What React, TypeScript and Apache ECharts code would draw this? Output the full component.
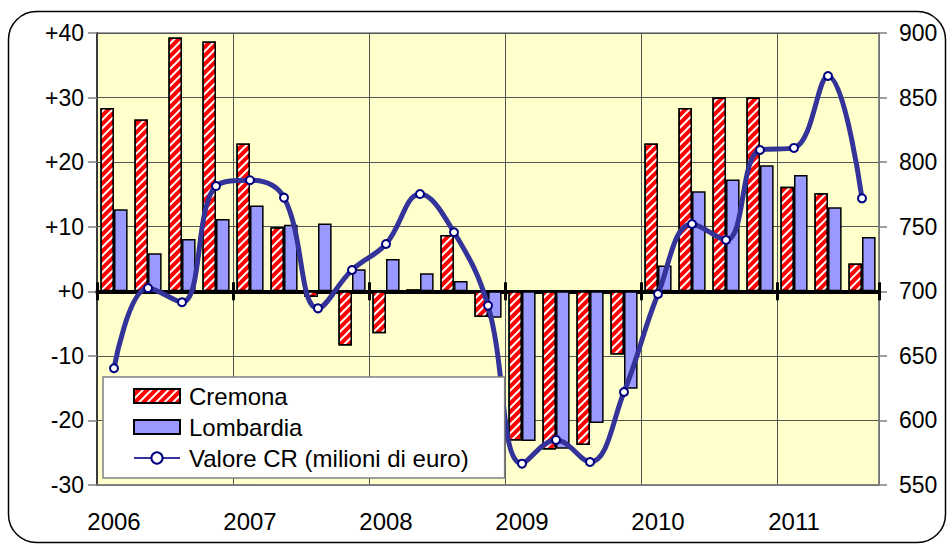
import React, { useEffect, useRef } from "react";
import * as echarts from "echarts";

const quarters = [
  "I-2006", "II-2006", "III-2006", "IV-2006",
  "I-2007", "II-2007", "III-2007", "IV-2007",
  "I-2008", "II-2008", "III-2008", "IV-2008",
  "I-2009", "II-2009", "III-2009", "IV-2009",
  "I-2010", "II-2010", "III-2010", "IV-2010",
  "I-2011", "II-2011", "III-2011",
];
const years = ["2006", "2007", "2008", "2009", "2010", "2011"];
const cremona = [28.4, 26.6, 39.3, 38.7, 22.9, 9.9, -0.9, -8.4, -6.5, 0.3, 8.7, -4.0, -23.1, -24.5, -23.8, -9.8, 22.9, 28.4, 30.0, 30.0, 16.2, 15.2, 4.3];
const lombardia = [12.7, 5.9, 8.1, 11.2, 13.3, 10.3, 10.5, 3.4, 5.0, 2.8, 1.6, -4.1, -23.2, -24.4, -20.4, -15.1, 4.0, 15.5, 17.3, 19.5, 18.0, 13.0, 8.4];
const valore = [640.4, 702.5, 691.5, 781.5, 786, 772.5, 686.8, 716.5, 736.6, 775.3, 745.7, 688.9, 566.5, 584.9, 567.8, 622, 697.9, 752.1, 739.7, 809.4, 811, 866.7, 772];
const leftTicks = { min: -30, max: 40, step: 10 };
const rightTicks = { min: 550, max: 900, step: 50 };

const FONT = "Liberation Sans";

export default function App() {
  const ref = useRef<HTMLDivElement>(null);
  useEffect(() => {
    if (!ref.current) return;
    const chart = echarts.init(ref.current, null, { renderer: "svg" });
    const yearTick = (i: number) => i % 4 === 0;
    const zeroAxis = (inside: boolean) => ({
      type: "category",
      data: quarters,
      gridIndex: 0,
      position: "bottom",
      axisLine: {
        show: !inside,
        onZero: true,
        onZeroAxisIndex: 0,
        lineStyle: { color: "#000", width: 4 },
      },
      axisTick: {
        show: true,
        inside,
        interval: (i: number) => yearTick(i),
        length: 9,
        lineStyle: { color: "#000", width: 3 },
      },
      axisLabel: { show: false },
      splitLine: { show: false },
    });
    chart.setOption({
      animation: false,
      textStyle: { fontFamily: FONT },
      grid: {
        left: 97,
        right: 70,
        top: 33,
        bottom: 59,
        show: true,
        backgroundColor: "#FFFFCC",
        borderColor: "#808080",
        borderWidth: 1.5,
      },
      graphic: [
        {
          type: "rect",
          shape: { x: 8.5, y: 11.5, width: 937, height: 531, r: 28 },
          style: { fill: "none", stroke: "#000", lineWidth: 1.5 },
          z: 100,
        },
      ],
      legend: {
        orient: "vertical",
        left: 103,
        top: 377,
        padding: [7, 36, 8, 30],
        itemGap: 7,
        itemWidth: 46,
        itemHeight: 14,
        backgroundColor: "#ffffff",
        borderColor: "#808080",
        borderWidth: 1.5,
        selectedMode: false,
        textStyle: {
          fontSize: 24,
          lineHeight: 24,
          color: "#000",
          fontFamily: FONT,
          padding: [0, 0, 0, 4],
        },
        data: [
          { name: "Cremona", icon: "rect" },
          { name: "Lombardia", icon: "rect" },
          { name: "Valore CR (milioni di euro)" },
        ],
        z: 50,
      },
      xAxis: [
        {
          type: "category",
          data: quarters,
          position: "bottom",
          axisLine: { onZero: false, lineStyle: { color: "#808080", width: 1.5 } },
          axisTick: { show: false },
          axisLabel: {
            interval: 0,
            fontSize: 24,
            color: "#000",
            margin: 24,
            formatter: (_v: string, i: number) => (i % 4 === 0 ? years[i / 4] : ""),
          },
          splitLine: {
            show: true,
            interval: (i: number) => yearTick(i),
            lineStyle: { color: "#555", width: 1 },
          },
        },
        zeroAxis(false),
        zeroAxis(true),
      ],
      yAxis: [
        {
          type: "value",
          min: leftTicks.min,
          max: leftTicks.max,
          interval: leftTicks.step,
          axisLine: { show: true, lineStyle: { color: "#3a3a3a", width: 2 } },
          axisTick: { show: true, length: 9, lineStyle: { color: "#808080", width: 1.5 } },
          axisLabel: {
            fontSize: 23,
            color: "#000",
            margin: 13,
            formatter: (v: number) => (v >= 0 ? "+" + v : "" + v),
          },
          splitLine: { show: true, lineStyle: { color: "#555", width: 1 } },
        },
        {
          type: "value",
          position: "right",
          min: rightTicks.min,
          max: rightTicks.max,
          interval: rightTicks.step,
          axisLine: { show: true, lineStyle: { color: "#808080", width: 1.5 } },
          axisTick: { show: true, length: 8, lineStyle: { color: "#808080", width: 1.5 } },
          axisLabel: { fontSize: 23, color: "#000", margin: 20 },
          splitLine: { show: false },
        },
      ],
      series: [
        {
          name: "Cremona",
          type: "bar",
          data: cremona,
          xAxisIndex: 0,
          yAxisIndex: 0,
          barGap: "0%",
          barCategoryGap: "20%",
          itemStyle: {
            color: "#FF0000",
            borderColor: "#000",
            borderWidth: 1.5,
            decal: {
              symbol: "rect",
              symbolSize: 1,
              color: "#ffffff",
              dashArrayX: [1, 0],
              dashArrayY: [2, 4],
              rotation: -Math.PI / 4,
            },
          },
        },
        {
          name: "Lombardia",
          type: "bar",
          data: lombardia,
          xAxisIndex: 0,
          yAxisIndex: 0,
          itemStyle: { color: "#9999FF", borderColor: "#000", borderWidth: 1.5 },
        },
        {
          name: "Valore CR (milioni di euro)",
          type: "line",
          data: valore,
          xAxisIndex: 0,
          yAxisIndex: 1,
          smooth: 0.4,
          symbol: "circle",
          symbolSize: 8,
          showSymbol: true,
          lineStyle: { color: "#333399", width: 5 },
          itemStyle: { color: "#ffffff", borderColor: "#000080", borderWidth: 2 },
          z: 10,
        },
      ],
    });
    return () => chart.dispose();
  }, []);
  return (
    <div
      ref={ref}
      style={{ position: "absolute", left: 0, top: 0, width: 949, height: 544, background: "#fff" }}
    />
  );
}
